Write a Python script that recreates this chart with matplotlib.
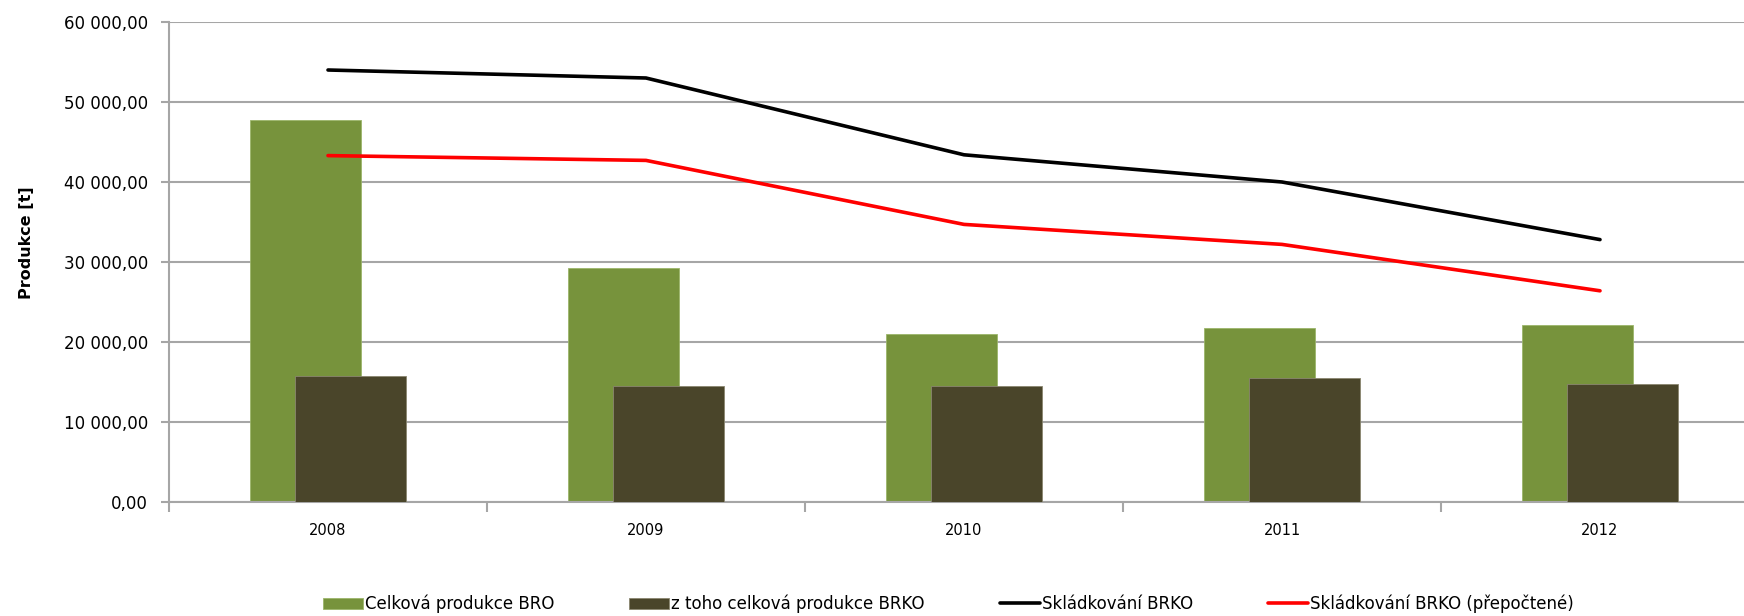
import numpy as np
import matplotlib.pyplot as plt
from matplotlib.ticker import FuncFormatter, FixedLocator

# data
years = ['2008', '2009', '2010', '2011', '2012']
bro_total = [47800, 29200, 21000, 21700, 22100]
brko_total = [15700, 14500, 14500, 15450, 14700]
brko_landfill = [54000, 53000, 43400, 40000, 32800]
brko_landfill_recalc = [43300, 42700, 34700, 32200, 26400]

green = '#77933C'
brown = '#4A452A'
grid_gray = '#A6A6A6'

fig = plt.figure(figsize=(17.44, 6.16), dpi=100)
ax = fig.add_axes([169 / 1744, 1 - 502 / 616, 1590 / 1744, 480 / 616])

x = np.arange(len(years))
w = 0.35
off = 0.07

b1 = ax.bar(x - off, bro_total, width=w, color=green, edgecolor='#9BB56A', linewidth=0.6,
            label='Celková produkce BRO', zorder=2)
b2 = ax.bar(x + off, brko_total, width=w, color=brown, edgecolor='#8A8670', linewidth=0.6,
            label='z toho celková produkce BRKO', zorder=3)
l1, = ax.plot(x, brko_landfill, color='black', linewidth=2.6, solid_capstyle='round',
              label='Skládkování BRKO', zorder=4)
l2, = ax.plot(x, brko_landfill_recalc, color='#FF0000', linewidth=2.6, solid_capstyle='round',
              label='Skládkování BRKO (přepočtené)', zorder=4)

ax.set_xlim(-0.5, 4.5)
ax.set_ylim(0, 60000)
ax.set_yticks(np.arange(0, 60001, 10000))
ax.yaxis.set_major_formatter(FuncFormatter(
    lambda v, p: f"{v:,.2f}".replace(",", " ").replace(".", ",")))

# tick marks between categories, labels in the middle
ax.xaxis.set_major_locator(FixedLocator(np.arange(-0.5, 5, 1.0)))
ax.xaxis.set_minor_locator(FixedLocator(x))
ax.set_xticklabels([], minor=False)
ax.set_xticklabels(years, minor=True)
ax.tick_params(axis='x', which='major', length=7, width=1.5, color=grid_gray)
ax.tick_params(axis='x', which='minor', length=0, pad=15, labelsize=10.5)
ax.tick_params(axis='y', length=6, width=1.5, color=grid_gray, pad=9, labelsize=12)

ax.grid(axis='y', color=grid_gray, linewidth=1.5, zorder=0)
ax.set_axisbelow(True)
for s in ['top', 'right']:
    ax.spines[s].set_visible(False)
for s in ['left', 'bottom']:
    ax.spines[s].set_color(grid_gray)
    ax.spines[s].set_linewidth(1.5)

ax.set_ylabel('Produkce [t]', fontsize=11.5, fontweight='bold')
ax.yaxis.set_label_coords(-0.085, 0.54)

fig.legend([b1, b2, l1, l2], [h.get_label() for h in [b1, b2, l1, l2]],
           loc='center', bbox_to_anchor=(948 / 1744, 1 - 604 / 616), ncol=4,
           frameon=False, fontsize=12, handlelength=2.4, handleheight=0.7,
           handletextpad=0.12, columnspacing=4.5)

fig.savefig('out.png', dpi=100)
